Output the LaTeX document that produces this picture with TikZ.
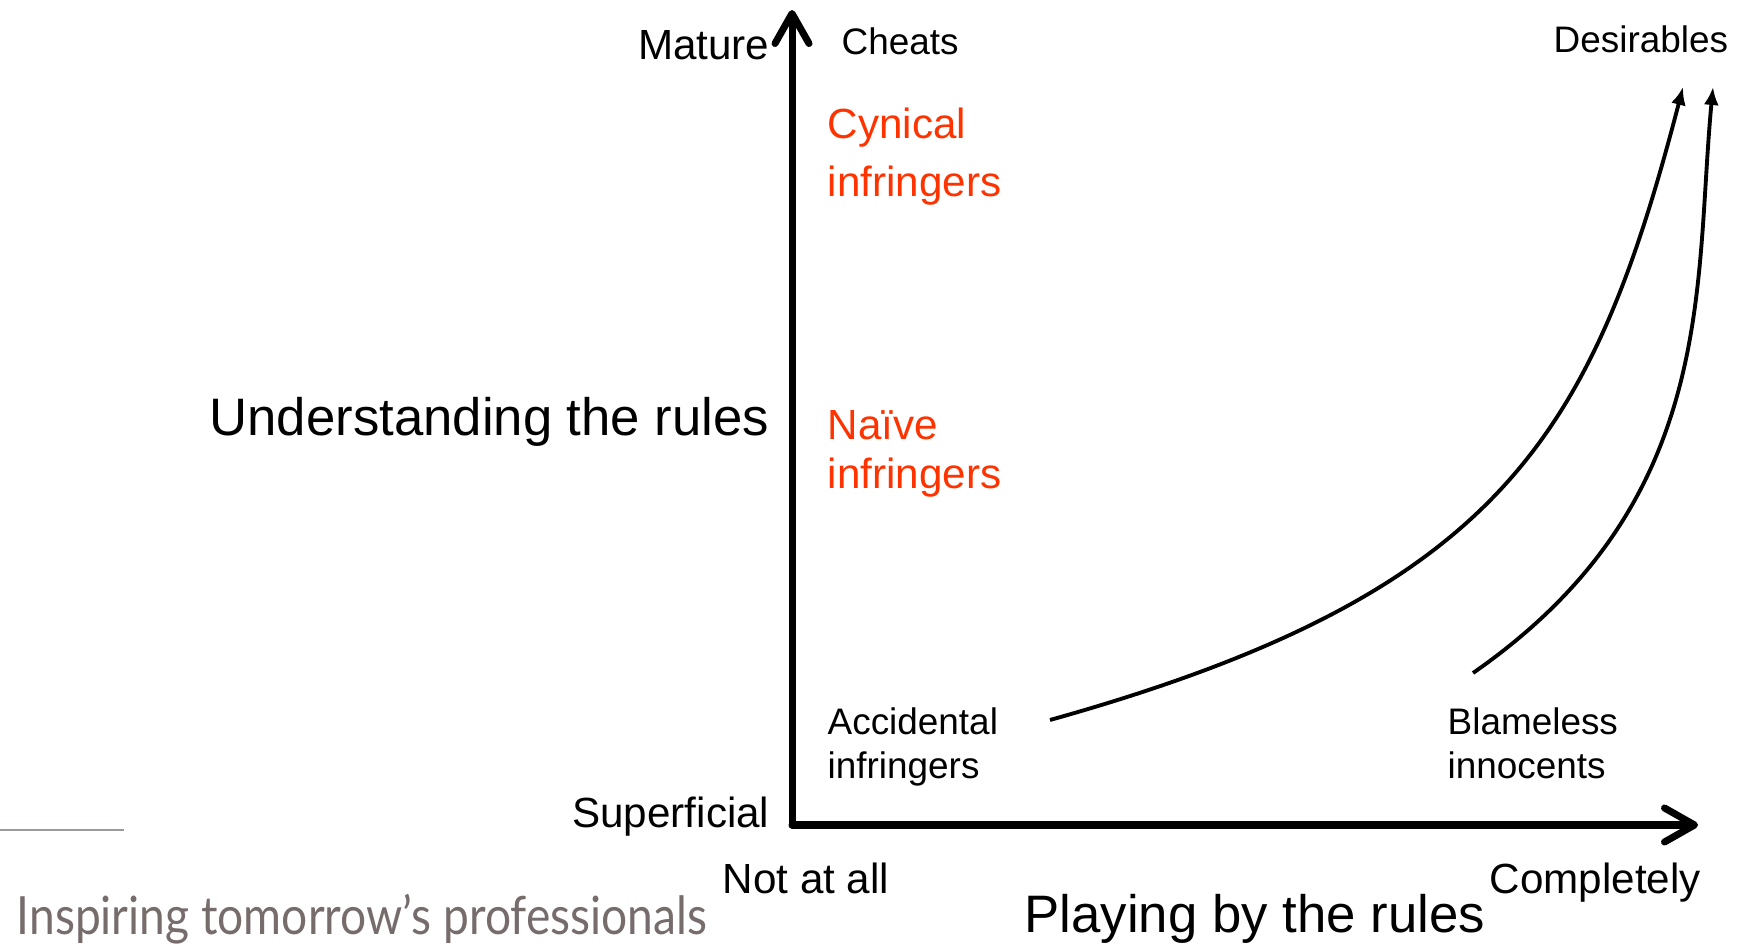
\documentclass[tikz,border=0pt]{standalone}
\usepackage{fontspec}
\setmainfont{Liberation Sans}
\newfontfamily\slogfont{Lato}
\usetikzlibrary{arrows.meta}
\definecolor{infred}{RGB}{255,51,0}
\definecolor{sloggray}{RGB}{118,108,108}

\begin{document}
\begin{tikzpicture}[inner sep=0pt,
    axis/.style={line width=2pt, line cap=round, line join=round,
                 -{Straight Barb[length=3mm,width=3.4mm,round]}},
    trend/.style={line width=1.1pt, -{Latex[length=1.8mm,width=1.5mm]}},
    big label/.style={font=\fontsize{15}{18}\selectfont},
    mid label/.style={font=\fontsize{12}{14}\selectfont},
    corner label/.style={font=\fontsize{10.5}{12.8}\selectfont, align=left},
    group label/.style={font=\fontsize{12}{16.5}\selectfont, text=infred, align=left}]

  \useasboundingbox (0,0) rectangle (17.42,9.45);

  % axes
  \coordinate (o) at (7.92, 1.20);
  \coordinate (ytip) at (7.92, 9.35);
  \coordinate (xtip) at (16.98, 1.20);
  \draw[axis] (o) -- (ytip);
  \draw[axis] (o) -- (xtip);

  % axis labels
  \node[mid label, anchor=base east] (mature) at (7.70, 8.85) {Mature};
  \node[mid label, anchor=base east] (superficial) at (7.70, 1.17) {Superficial};
  \node[big label, anchor=base east] (understanding) at (7.70, 5.09) {Understanding the rules};
  \node[mid label, anchor=base west] (notatall) at (7.22, 0.51) {Not at all};
  \node[mid label, anchor=base west] (completely) at (14.89, 0.51) {Completely};
  \node[big label, anchor=base west] (playing) at (10.24, 0.12) {Playing by the rules};

  % corners (base = last line)
  \node[corner label, anchor=base west] (cheats) at (8.41, 8.90) {Cheats};
  \node[corner label, anchor=base west] (desirables) at (15.53, 8.92) {Desirables};
  \node[corner label, anchor=base west] (accidental) at (8.27, 1.66) {Accidental\\infringers};
  \node[corner label, anchor=base west] (blameless) at (14.47, 1.66) {Blameless\\innocents};

  % infringers
  \node[group label, anchor=base west] (cynical) at (8.27, 7.48) {Cynical\\infringers};
  \node[group label, anchor=base west, font=\fontsize{12}{14}\selectfont] (naive) at (8.27, 4.56) {Naïve\\infringers};

  % trends
  \coordinate (acc end) at (10.50, 2.25);
  \coordinate (bla end) at (14.73, 2.72);
  \coordinate (des left) at (16.83, 8.58);
  \coordinate (des right) at (17.13, 8.58);
  \draw[trend] (acc end) .. controls (15.00, 3.51) and (15.92, 5.08) .. (des left);
  \draw[trend] (bla end) .. controls (17.19, 4.43) and (16.94, 6.59) .. (des right);

  % footer
  \draw[sloggray!70, line width=0.8pt] (0, 1.15) -- (1.24, 1.15);
  \node[anchor=base west, text=sloggray, font=\slogfont\fontsize{15}{18}\selectfont] (slogan)
    at (0.16, 0.10) {\scalebox{0.875}[1]{Inspiring tomorrow’s professionals}};

\end{tikzpicture}
\end{document}
